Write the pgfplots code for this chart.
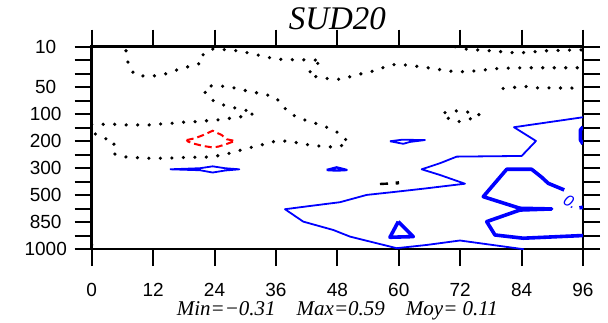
\documentclass[border=0pt]{standalone}
\usepackage{fontspec}
\usepackage{pgfplots}
\pgfplotsset{compat=1.18}
\newfontfamily\ticksf{Liberation Sans}
\newfontfamily\serifit{Liberation Serif}
\definecolor{ncblue}{RGB}{0,0,255}
\definecolor{ncred}{RGB}{255,0,0}
\begin{document}
\begin{tikzpicture}
\path[use as bounding box] (-91.7pt,-73pt) rectangle (516.3pt,249pt);
\begin{axis}[
  at={(0pt,0pt)}, anchor=south west,
  scale only axis, width=491.3pt, height=202.3pt,
  xmin=0, xmax=96, ymin=0, ymax=15, y dir=reverse,
  xtick={0,12,24,36,48,60,72,84,96},
  xticklabels={0,12,24,36,48,60,72,84,96},
  ytick={0,1,2,3,4,5,6,7,8,9,10,11,12,13,14,15},
  yticklabels={10,{},{},50,{},100,{},200,{},300,{},500,{},850,{},1000},
  tick align=outside, major tick length=17pt,
  every tick/.style={black, line width=2pt},
  axis line style={line width=2.6pt},
  ticklabel style={font=\ticksf\fontsize{19}{19}\selectfont},
  xticklabel style={yshift=-14pt},
  yticklabel style={anchor=center, xshift=-29pt},
  clip mode=individual,
  dotted contour/.style={black, line width=3.6pt, line cap=round, dash pattern=on 0pt off 11.5pt},
  thin blue/.style={ncblue, line width=1.8pt, line join=round},
  thick blue/.style={ncblue, line width=3.6pt, line join=round},
]
% dotted (negative) contours
\addplot[dotted contour] coordinates {
(6.7,0.3) (6.84,0.74) (7.29,1.48) (8.46,2.10) (10.61,2.19) (12.82,2.15) (15.10,1.95) (17.12,1.65) (19.21,1.45) (21.49,1.21) (21.81,0.54) (23.70,0.17) (27.02,0.24) (29.31,0.34) (31.46,0.54) (33.67,0.71) (35.81,0.91) (38.10,0.96) (40.37,0.96) (42.65,0.99) (44.94,0.99) (43.10,1.58) (42.32,2.10) (44.47,2.27) (46.56,2.39) (48.85,2.42) (50.92,2.17) (53.07,1.97) (55.35,1.78) (57.44,1.48) (59.65,1.28) (61.86,1.38) (64.15,1.48) (66.43,1.60) (68.58,1.73) (70.79,1.85) (73.13,1.85) (75.54,1.78) (77.69,1.68) (79.97,1.60) (84.33,1.56) (96,1.56)};
\addplot[dotted contour] coordinates {
(70.99,0) (73.27,0.19) (77.82,0.30) (80.11,0.37) (82.26,0.44) (84.27,0.44) (86.62,0.37) (88.77,0.30) (95.02,0.24) (96,0.24)};
\addplot[dotted contour] coordinates {
(80.4,3.10) (83,3.0) (85,2.95) (87,3.05) (96,3.07)};
\addplot[dotted contour] coordinates {
(69.03,4.89) (71.63,4.74) (74.25,4.89) (75.87,5.06) (73.78,5.38) (71.63,5.56) (69.68,5.31) (69.03,4.89)};
\addplot[black, line width=2.4pt] coordinates {(56.33,10.18) (57.9,10.15)};
\addplot[black, line width=3.4pt] coordinates {(59.7,9.98) (59.75,10.22)};
\addplot[dotted contour] coordinates {
(0,5.75) (2.27,5.75) (4.42,5.75) (6.70,5.80) (8.91,5.80) (11.20,5.80) (13.35,5.73) (15.63,5.68) (17.90,5.60) (20.18,5.56) (22.47,5.49) (24.62,5.43) (27.02,5.31) (29.17,5.19) (31.46,4.99) (31.71,4.82) (29.62,4.69) (27.47,4.49) (25.21,4.27) (23.25,3.90) (21.94,3.28) (22.72,2.91) (25.07,2.91) (27.35,3.01) (29.50,3.21) (31.71,3.38) (33.86,3.53) (36.01,3.78) (37.44,4.45) (38.88,4.99) (41.03,5.36) (43.10,5.60) (45.25,5.88) (47.34,6.17) (49.16,6.67) (50.14,7.12) (47.99,7.46) (45.92,7.41) (43.63,7.34) (41.34,7.21) (39.08,7.04) (36.79,6.97) (34.70,7.09) (32.55,7.36) (30.29,7.53) (28.19,7.78) (26.05,7.98) (23.76,8.15) (21.69,8.20) (19.34,8.20) (17.12,8.23) (14.77,8.27) (12.56,8.27) (10.22,8.27) (8.01,8.20) (5.86,8.15) (4.10,7.90) (4.42,7.04) (2.46,6.79) (0.45,6.42) (0,6.25)};
\addplot[dotted contour] coordinates {(0,14.7) (0.6,14.95)};
% red dashed contour
\addplot[ncred, line width=2pt, dash pattern=on 7pt off 4pt] coordinates {
(18.56,6.92) (20.18,6.79) (21.81,6.55) (23.64,6.23) (25.40,6.55) (26.38,6.86) (28.00,6.99) (26.38,7.21) (24.74,7.41) (23.45,7.46) (21.81,7.36) (20.18,7.21) (18.87,7.04) (18.56,6.92)};
% blue thin contours
\addplot[thin blue] coordinates {
(15.30,9.09) (21.16,9.01) (23.64,8.87) (26.05,9.01) (28.84,9.09) (26.05,9.18) (23.64,9.33) (21.16,9.16) (15.30,9.09)};
\addplot[thin blue, line width=2.4pt] coordinates {
(45.92,9.14) (47.87,8.95) (49.82,9.14) (47.87,9.18) (45.92,9.14)};
\addplot[thin blue] coordinates {
(58.28,7.01) (60.57,6.90) (65.12,6.92) (62.19,7.06) (60.88,7.20) (58.28,7.01)};
\addplot[thin blue] coordinates {
(96,5.23) (82.51,5.97) (86.81,6.99) (84.02,8.10) (71.32,8.15) (68.05,8.64) (64.48,9.09) (68.05,9.51) (72.94,10.16) (68.05,10.38) (65.45,10.50) (59.59,10.75) (53.73,10.99) (48.51,11.53) (42.65,11.81) (37.77,12.05) (41.34,12.97) (47.21,13.59) (50.47,14.08) (59.59,14.94) (65.45,14.70) (71.96,14.37) (84.47,15.02)};
% blue thick contours
\addplot[thick blue] coordinates {(96,5.95) (95.5,6.17) (95.5,6.92) (96,7.21)};
\addplot[thick blue] coordinates {
(92.33,10.62) (89.21,10.13) (87.93,9.68) (85.97,9.09) (81.09,9.09) (78.47,10.25) (76.51,11.12) (83.68,11.98) (89.88,12.03) (83.68,12.11) (77.18,12.97) (78.80,13.96) (84.33,14.20) (96,14.00)};
\addplot[thick blue] coordinates {(95.3,11.95) (96,11.9)};
\addplot[thick blue] coordinates {
(59.91,12.97) (58.28,14.13) (62.84,14.08) (59.91,12.97)};
\node[text=ncblue, rotate=-30, font=\ticksf\itshape\fontsize{16}{16}\selectfont] at (axis cs:93.6,11.5) {0.};
\node[anchor=base, font=\serifit\itshape\fontsize{33}{33}\selectfont] at (rel axis cs:0.5,1) [yshift=17.4pt] {SUD20};
\node[anchor=base, font=\serifit\itshape\fontsize{21}{21}\selectfont] at (rel axis cs:0.5,0) [yshift=-66.7pt] {Min=−0.31\quad Max=0.59\quad Moy= 0.11};
\end{axis}
\end{tikzpicture}
\end{document}
